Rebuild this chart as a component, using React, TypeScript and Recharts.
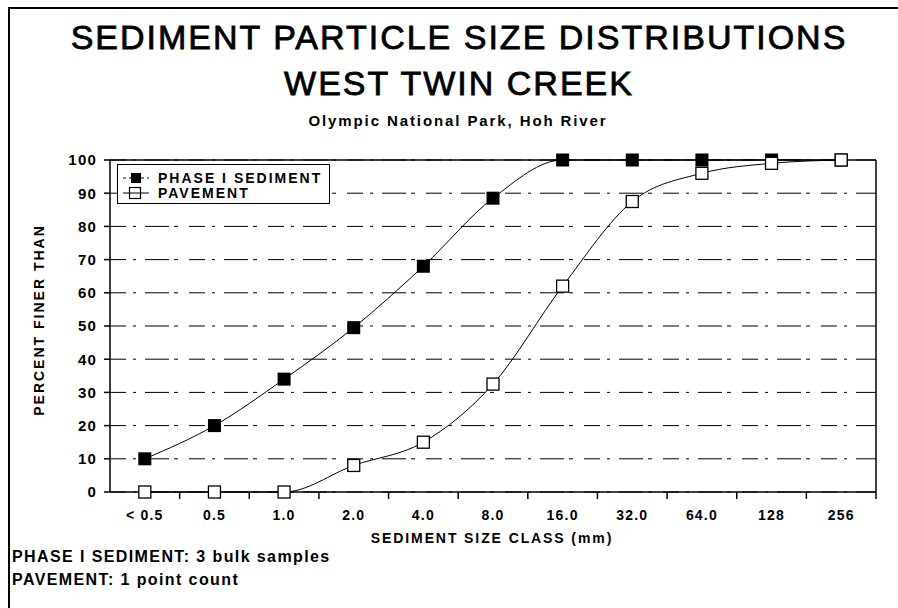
import { LineChart, Line, XAxis, YAxis, CartesianGrid, ReferenceLine } from 'recharts';

const SIZE_CLASSES = ['< 0.5', '0.5', '1.0', '2.0', '4.0', '8.0', '16.0', '32.0', '64.0', '128', '256'];
const PHASE_I = [10, 20, 34, 49.5, 68, 88.5, 100, 100, 100, 100, 100];
const PAVEMENT = [0, 0, 0, 8, 15, 32.5, 62, 87.5, 96, 99, 100];
const Y_TICKS = [0, 10, 20, 30, 40, 50, 60, 70, 80, 90, 100];

const data = SIZE_CLASSES.map((size, i) => ({
  size,
  phase: PHASE_I[i],
  pavement: PAVEMENT[i],
}));

const FONT = '"Liberation Sans", Arial, Helvetica, sans-serif';
const PLOT_LEFT = 110;
const PLOT_RIGHT = 876;
const PLOT_TOP = 160;
const PLOT_BOTTOM = 492;
const BAND = (PLOT_RIGHT - PLOT_LEFT) / SIZE_CLASSES.length;

function FilledSquare(props: any) {
  const { cx, cy } = props;
  if (cx == null || cy == null) return null;
  return <rect x={cx - 6.5} y={cy - 6.5} width={13} height={13} fill="#000" />;
}

function OpenSquare(props: any) {
  const { cx, cy } = props;
  if (cx == null || cy == null) return null;
  return <rect x={cx - 6} y={cy - 6} width={12} height={12} fill="#fff" stroke="#000" strokeWidth={1.3} />;
}

function XTick(props: any) {
  const { x, y, payload } = props;
  return (
    <g>
      <line x1={x + BAND / 2} x2={x + BAND / 2} y1={y} y2={y + 7} stroke="#000" strokeWidth={1.5} />
      <text x={x} y={y + 28} textAnchor="middle" fontSize={14} fontWeight="bold" fill="#000" letterSpacing={1.2}>
        {payload.value}
      </text>
    </g>
  );
}

const bold: React.CSSProperties = { fontWeight: 'bold', fontSize: 14, letterSpacing: 2, color: '#000', whiteSpace: 'nowrap' };

export default function App() {
  return (
    <div style={{ position: 'absolute', left: 0, top: 0, width: 898, height: 608, background: '#fff', fontFamily: FONT, overflow: 'hidden' }}>
      {/* page frame */}
      <div style={{ position: 'absolute', left: 8, top: 7, width: 900, height: 610, borderLeft: '2px solid #000', borderTop: '2px solid #000' }} />

      <div style={{ position: 'absolute', left: 0, width: 898, top: 14, textAlign: 'center', fontSize: 34, letterSpacing: 2, lineHeight: '46px', paddingLeft: 20, boxSizing: 'border-box', WebkitTextStroke: '0.8px #000' } as React.CSSProperties}>
        SEDIMENT PARTICLE SIZE DISTRIBUTIONS<br />WEST TWIN CREEK
      </div>
      <div style={{ position: 'absolute', left: 0, width: 898, top: 112, textAlign: 'center', paddingLeft: 18, boxSizing: 'border-box', ...bold, fontSize: 15, letterSpacing: 1.9 }}>
        Olympic National Park, Hoh River
      </div>

      <LineChart
        width={898}
        height={608}
        data={data}
        margin={{ top: PLOT_TOP, right: 898 - PLOT_RIGHT - 1, bottom: 608 - PLOT_BOTTOM - 40, left: PLOT_LEFT - 50 }}
        style={{ position: 'absolute', left: 0, top: 0 }}
      >
        <CartesianGrid yAxisId="l" vertical={false} stroke="#000" strokeDasharray="16 7 3 9 24 5 4 11" strokeWidth={1} />
        <XAxis
          dataKey="size"
          scale="band"
          height={40}
          tickSize={0}
          tickMargin={0}
          tickLine={false}
          tick={<XTick />}
          interval={0}
          axisLine={{ stroke: '#000', strokeWidth: 1.5 }}
        />
        <YAxis
          yAxisId="l"
          width={50}
          domain={[0, 100]}
          ticks={Y_TICKS}
          interval={0}
          tickSize={6}
          tickMargin={7}
          axisLine={{ stroke: '#000', strokeWidth: 1.5 }}
          tickLine={{ stroke: '#000', strokeWidth: 1.5 }}
          tick={{ fill: '#000', fontSize: 15, fontWeight: 'bold', letterSpacing: 1.2 }}
        />
        <YAxis yAxisId="r" orientation="right" width={1} domain={[0, 100]} tick={false} tickLine={false} axisLine={{ stroke: '#000', strokeWidth: 1.5 }} />
        <ReferenceLine yAxisId="l" y={100} stroke="#000" strokeWidth={1.5} />
        <Line
          yAxisId="l"
          type="monotone"
          dataKey="phase"
          stroke="#000"
          strokeWidth={1}
          dot={<FilledSquare />}
          activeDot={false}
          isAnimationActive={false}
        />
        <Line
          yAxisId="l"
          type="monotone"
          dataKey="pavement"
          stroke="#000"
          strokeWidth={1}
          dot={<OpenSquare />}
          activeDot={false}
          isAnimationActive={false}
        />
      </LineChart>

      {/* legend */}
      <div style={{ position: 'absolute', left: 117, top: 164, width: 213, height: 40, border: '1.5px solid #000', boxSizing: 'border-box', background: '#fff' }}>
        <div style={{ position: 'absolute', left: 4, top: 6, display: 'flex', alignItems: 'center', height: 14 }}>
          <svg width={28} height={14}>
            <line x1={1} x2={27} y1={7} y2={7} stroke="#000" strokeWidth={1} strokeDasharray="3 3" />
            <rect x={9} y={2} width={10} height={10} fill="#000" />
          </svg>
          <span style={{ ...bold, marginLeft: 8 }}>PHASE I SEDIMENT</span>
        </div>
        <div style={{ position: 'absolute', left: 4, top: 21, display: 'flex', alignItems: 'center', height: 14 }}>
          <svg width={28} height={14}>
            <line x1={1} x2={27} y1={7} y2={7} stroke="#000" strokeWidth={1} />
            <rect x={7.5} y={1.5} width={11} height={11} fill="none" stroke="#000" strokeWidth={1.2} />
          </svg>
          <span style={{ ...bold, marginLeft: 8 }}>PAVEMENT</span>
        </div>
      </div>

      {/* axis titles */}
      <div style={{ position: 'absolute', left: 39, top: 320, transform: 'translate(-50%, -50%) rotate(-90deg)', ...bold, fontSize: 14, letterSpacing: 2 }}>
        PERCENT FINER THAN
      </div>
      <div style={{ position: 'absolute', left: 492, top: 538, transform: 'translate(-50%, -50%)', ...bold, fontSize: 14, letterSpacing: 1.9 }}>
        SEDIMENT SIZE CLASS (mm)
      </div>

      {/* notes */}
      <div style={{ position: 'absolute', left: 12, top: 545, ...bold, fontSize: 16, letterSpacing: 1.4, lineHeight: '23px' }}>
        PHASE I SEDIMENT: 3 bulk samples<br />PAVEMENT: 1 point count
      </div>
    </div>
  );
}
